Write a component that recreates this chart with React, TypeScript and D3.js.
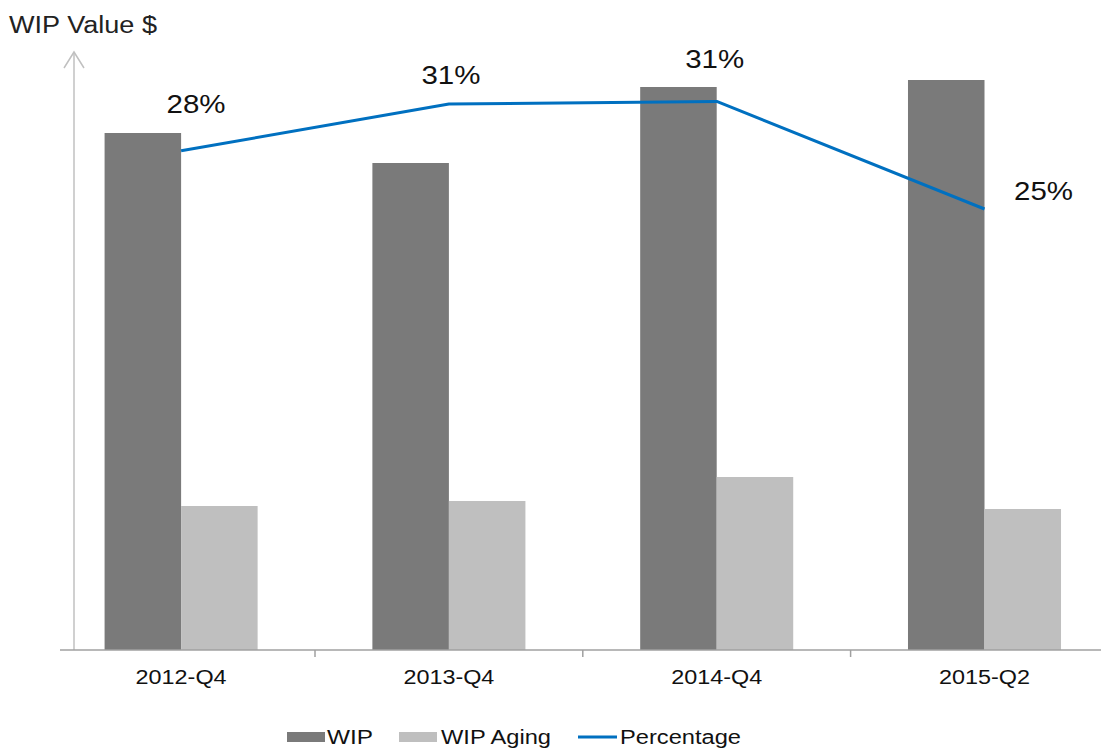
import React from "react";
import * as d3 from "d3";

const categories = ["2012-Q4", "2013-Q4", "2014-Q4", "2015-Q2"];
const wipValues = [517, 487, 563, 570];
const wipAgingValues = [144, 149, 173, 141];
const percentageValues = [28.3, 30.95, 31.1, 25.0];
const percentageLabels = ["28%", "31%", "31%", "25%"];
const seriesNames = ["WIP", "WIP Aging"];

const W = 1101;
const H = 748;
const baseY = 650;
const FONT = "Arial, 'Liberation Sans', sans-serif";

// manual label offsets (layout only), relative to the line point
const labelOffsets = [
  { dx: 15, dy: -38 },
  { dx: 2, dy: -20 },
  { dx: -2, dy: -33 },
  { dx: 59, dy: -9 },
];

export default function App() {
  const x0 = d3.scaleBand<string>().domain(categories).range([47.2, 1118.4]).paddingInner(0).paddingOuter(0);
  const bw = x0.bandwidth();
  const x1 = d3.scaleBand<string>().domain(seriesNames).range([0, bw]).paddingInner(0).paddingOuter(0.75);
  const y = d3.scaleLinear().domain([0, 600]).range([baseY, 50]);
  const yPct = d3.scaleLinear().domain([0, 35]).range([baseY, baseY - 35 * 17.64]);

  const pts: [number, number][] = categories.map((c, i) => [
    (x0(c) as number) + bw / 2,
    yPct(percentageValues[i]),
  ]);
  const line = d3.line()(pts) as string;

  const series = [
    { name: "WIP", values: wipValues, color: "#7a7a7a" },
    { name: "WIP Aging", values: wipAgingValues, color: "#bfbfbf" },
  ];

  const boundaries = categories.slice(1).map((c) => x0(c) as number);

  return (
    <svg width={W} height={H} style={{ position: "absolute", left: 0, top: 0, background: "#fff" }}>
      <rect x={0} y={0} width={W} height={H} fill="#fff" />
      {/* title */}
      <text x={9} y={33} fontFamily={FONT} fontSize={23.5} fill="#222" textLength={148} lengthAdjust="spacingAndGlyphs">
        WIP Value $
      </text>

      {/* bars */}
      {series.map((s) =>
        categories.map((c, i) => (
          <rect
            key={s.name + c}
            x={(x0(c) as number) + (x1(s.name) as number)}
            y={y(s.values[i])}
            width={x1.bandwidth()}
            height={baseY - y(s.values[i])}
            fill={s.color}
          />
        ))
      )}

      {/* y axis with arrow */}
      <line x1={74} y1={52} x2={74} y2={baseY} stroke="#c0c0c0" strokeWidth={1.5} />
      <polyline points="64,68 74,52 84,68" fill="none" stroke="#c0c0c0" strokeWidth={1.5} />

      {/* x axis */}
      <line x1={60} y1={baseY} x2={W} y2={baseY} stroke="#a0a0a0" strokeWidth={1.5} />
      {boundaries.map((b, i) => (
        <line key={i} x1={b} y1={baseY} x2={b} y2={baseY + 7} stroke="#a0a0a0" strokeWidth={1.5} />
      ))}
      {categories.map((c) => (
        <text
          key={c}
          x={(x0(c) as number) + bw / 2}
          y={684}
          textAnchor="middle"
          fontFamily={FONT}
          fontSize={20}
          fill="#111"
          textLength={91}
          lengthAdjust="spacingAndGlyphs"
        >
          {c}
        </text>
      ))}

      {/* percentage line */}
      <path d={line} fill="none" stroke="#0070c0" strokeWidth={3} strokeLinejoin="round" />
      {pts.map((p, i) => (
        <text
          key={i}
          x={p[0] + labelOffsets[i].dx}
          y={p[1] + labelOffsets[i].dy}
          textAnchor="middle"
          fontFamily={FONT}
          fontSize={25}
          fill="#111"
          textLength={59}
          lengthAdjust="spacingAndGlyphs"
        >
          {percentageLabels[i]}
        </text>
      ))}

      {/* legend */}
      <rect x={287} y={732} width={38} height={10} fill="#7a7a7a" />
      <text x={327} y={744} fontFamily={FONT} fontSize={20} fill="#111" textLength={46} lengthAdjust="spacingAndGlyphs">
        WIP
      </text>
      <rect x={399} y={732} width={38} height={10} fill="#bfbfbf" />
      <text x={441} y={744} fontFamily={FONT} fontSize={20} fill="#111" textLength={110} lengthAdjust="spacingAndGlyphs">
        WIP Aging
      </text>
      <line x1={578} y1={737} x2={617} y2={737} stroke="#0070c0" strokeWidth={3} />
      <text x={620} y={744} fontFamily={FONT} fontSize={20} fill="#111" textLength={121} lengthAdjust="spacingAndGlyphs">
        Percentage
      </text>
    </svg>
  );
}
